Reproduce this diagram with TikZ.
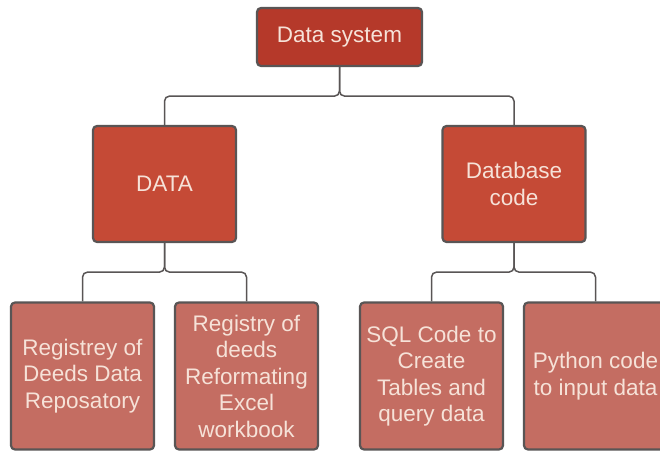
\documentclass[tikz,border=0pt]{standalone}
\usepackage{fontspec}
\setmainfont{Liberation Sans}
\usepackage{xcolor}
\definecolor{topred}{HTML}{B5392A}
\definecolor{midred}{HTML}{C54A36}
\definecolor{leafred}{HTML}{C46D62}
\definecolor{edgegray}{HTML}{595555}
\definecolor{cream}{HTML}{F6E2D8}
\tikzset{
    base-box/.style = {draw=edgegray, line width=2.2pt, rectangle, rounded corners=4pt, text=cream, align=center, font=\fontsize{22.5}{26.5}\selectfont, inner sep=0pt},
    top-box/.style = {base-box, fill=topred, minimum width=165pt, minimum height=58pt},
    mid-box/.style = {base-box, fill=midred, minimum width=143pt, minimum height=116pt},
    leaf-box/.style = {base-box, fill=leafred, minimum width=143pt, minimum height=147pt},
    link/.style = {draw=edgegray, line width=1.5pt, rounded corners=5pt},
}

\begin{document}
\begin{tikzpicture}[x=1pt, y=1pt]
\clip (0,0) rectangle (660,451);
\fill[white] (0,0) rectangle (660,451);
\node [top-box] (system) at (339.5,414) {Data system};
\node [mid-box] (data) at (164.5,267) {DATA};
\node [mid-box] (dbcode) at (514,267) {Database\\code};
\node [leaf-box] (repo) at (82.5,75) {Registrey of\\Deeds Data\\Reposatory};
\node [leaf-box] (excel) at (246.5,75) {Registry of\\deeds\\Reformating\\Excel\\workbook};
\node [leaf-box] (sql) at (431.5,75) {SQL Code to\\Create\\Tables and\\query data};
\node [leaf-box] (python) at (595.5,75) {Python code\\to input data};
\draw [link] (system.south) -- ++(0,-29) -| (data.north);
\draw [link] (system.south) -- ++(0,-29) -| (dbcode.north);
\draw [link] (data.south) -- ++(0,-29) -| (repo.north);
\draw [link] (data.south) -- ++(0,-29) -| (excel.north);
\draw [link] (dbcode.south) -- ++(0,-29) -| (sql.north);
\draw [link] (dbcode.south) -- ++(0,-29) -| (python.north);
\end{tikzpicture}
\end{document}
